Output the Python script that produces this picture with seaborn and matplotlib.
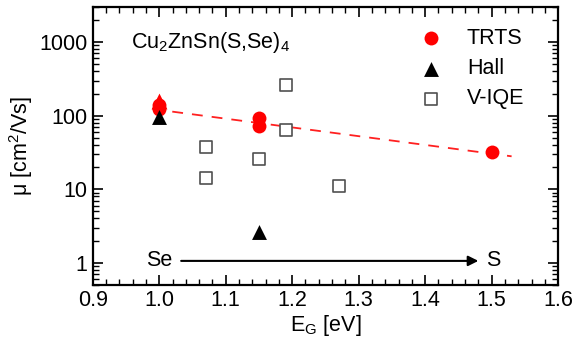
import numpy as np
import pandas as pd
import matplotlib
matplotlib.use("Agg")
import matplotlib.pyplot as plt
from matplotlib.ticker import MultipleLocator, LogLocator, NullFormatter, FixedLocator, FixedFormatter
import seaborn as sns

# Mobility vs. band gap for Cu2ZnSn(S,Se)4
trts_eg = [1.0, 1.0, 1.15, 1.15, 1.5]
trts_mu = [140, 122, 94, 73, 32]
trts_tri_eg = [1.0]
trts_tri_mu = [158]

hall_eg = [1.0, 1.15]
hall_mu = [95, 2.6]

viqe_eg = [1.07, 1.07, 1.15, 1.19, 1.19, 1.27]
viqe_mu = [37, 14, 26, 262, 63, 11]

fit_eg = [0.99, 1.53]
fit_mu = [123, 28]

x_ticks = [0.9, 1.0, 1.1, 1.2, 1.3, 1.4, 1.5, 1.6]
y_ticks = [1, 10, 100, 1000]
y_ticklabels = ["1", "10", "100", "1000"]

sns.set_theme(style="ticks")
plt.rcParams["font.family"] = ["Liberation Sans", "DejaVu Sans"]
plt.rcParams["mathtext.fontset"] = "custom"
plt.rcParams["mathtext.rm"] = "Liberation Sans"
plt.rcParams["mathtext.it"] = "Liberation Sans:italic"
plt.rcParams["mathtext.bf"] = "Liberation Sans:bold"
plt.rcParams["text.color"] = "black"
plt.rcParams["axes.labelcolor"] = "black"
plt.rcParams["xtick.color"] = "black"
plt.rcParams["ytick.color"] = "black"

fig = plt.figure(figsize=(5.76, 3.5), dpi=100)
ax = fig.add_axes([0.161, 0.186, 0.808, 0.794])

fs = 15.5

sns.lineplot(x=fit_eg, y=fit_mu, ax=ax, color="#ff2020", lw=1.3,
             linestyle=(0, (6, 5)), zorder=2)

sns.scatterplot(x=trts_eg, y=trts_mu, ax=ax, marker="o", s=100, color="#ff0000",
                edgecolor="#ff0000", linewidth=0, zorder=3, label="TRTS")
sns.scatterplot(x=trts_tri_eg, y=trts_tri_mu, ax=ax, marker="^", s=130, color="#ff0000",
                edgecolor="#ff0000", linewidth=0, zorder=3)
sns.scatterplot(x=hall_eg, y=hall_mu, ax=ax, marker="^", s=115, color="black",
                edgecolor="black", linewidth=0, zorder=4, label="Hall")
sns.scatterplot(x=viqe_eg, y=viqe_mu, ax=ax, marker="s", s=75, facecolor="white",
                edgecolor="#505050", linewidth=1.2, zorder=3, label="V-IQE")

ax.set_yscale("log")
ax.set_xlim(0.9, 1.6)
ax.set_ylim(0.5, 3000)

ax.xaxis.set_major_locator(FixedLocator(x_ticks))
ax.xaxis.set_major_formatter(FixedFormatter([f"{v:.1f}" for v in x_ticks]))
ax.xaxis.set_minor_locator(MultipleLocator(0.02))
ax.yaxis.set_major_locator(FixedLocator(y_ticks))
ax.yaxis.set_major_formatter(FixedFormatter(y_ticklabels))
ax.yaxis.set_minor_locator(LogLocator(base=10, subs=np.arange(2, 10)))
ax.yaxis.set_minor_formatter(NullFormatter())

ax.tick_params(which="both", direction="in", top=True, right=True,
               color="black", labelcolor="black", labelsize=fs, pad=4)
ax.tick_params(which="major", length=7, width=1.2)
ax.tick_params(which="minor", length=4, width=1.0)
for sp in ax.spines.values():
    sp.set_linewidth(1.6)
    sp.set_color("black")

ax.set_xlabel(r"E$_\mathrm{G}$ [eV]", fontsize=fs, labelpad=1, color="black")
ax.set_ylabel(r"μ [cm$^2$/Vs]", fontsize=fs, labelpad=3, color="black")

ax.text(0.957, 1000, r"Cu$_2$ZnSn(S,Se)$_4$", fontsize=fs, va="center", ha="left",
        color="black")

ax.annotate("", xy=(1.48, 1.06), xytext=(1.033, 1.06),
            arrowprops=dict(arrowstyle="-|>", color="black", lw=1.5,
                            mutation_scale=15, shrinkA=0, shrinkB=0))
ax.text(1.0, 1.06, "Se", fontsize=fs, ha="center", va="center", color="black")
ax.text(1.502, 1.06, "S", fontsize=fs, ha="center", va="center", color="black")

leg = ax.legend(loc="upper right", bbox_to_anchor=(0.927, 0.924), frameon=False,
                fontsize=fs, handletextpad=0.95, labelspacing=0.42,
                borderaxespad=0, borderpad=0, handlelength=1.4)
for t in leg.get_texts():
    t.set_color("black")

fig.savefig("out.png", dpi=100)
